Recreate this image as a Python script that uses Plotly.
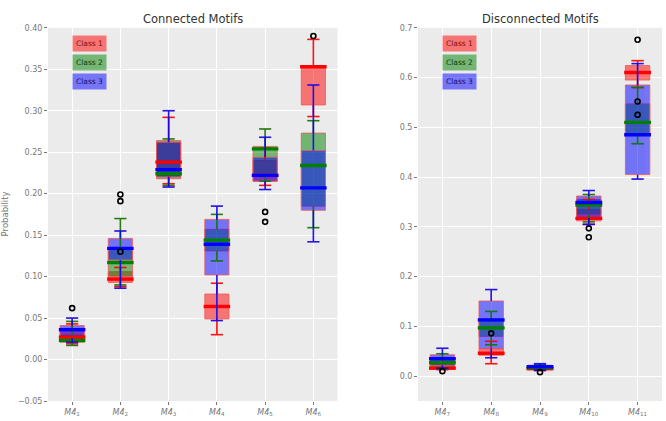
import plotly.graph_objects as go

# ---------------- data ----------------
conn_labels = ["<i>M4</i><sub>1</sub>", "<i>M4</i><sub>2</sub>", "<i>M4</i><sub>3</sub>",
               "<i>M4</i><sub>4</sub>", "<i>M4</i><sub>5</sub>", "<i>M4</i><sub>6</sub>"]
disc_labels = ["<i>M4</i><sub>7</sub>", "<i>M4</i><sub>8</sub>", "<i>M4</i><sub>9</sub>",
               "<i>M4</i><sub>10</sub>", "<i>M4</i><sub>11</sub>"]

# Connected motifs: lower whisker, q1, median, q3, upper whisker
conn_c1_low = [0.019, 0.088, 0.212, 0.030, 0.210, 0.293]
conn_c1_q1  = [0.022, 0.093, 0.222, 0.049, 0.215, 0.307]
conn_c1_med = [0.027, 0.097, 0.238, 0.064, 0.222, 0.353]
conn_c1_q3  = [0.035, 0.106, 0.262, 0.079, 0.240, 0.354]
conn_c1_up  = [0.043, 0.111, 0.292, 0.092, 0.255, 0.386]

conn_c2_low = [0.017, 0.090, 0.210, 0.119, 0.215, 0.159]
conn_c2_q1  = [0.021, 0.100, 0.218, 0.131, 0.220, 0.185]
conn_c2_med = [0.023, 0.117, 0.224, 0.144, 0.254, 0.234]
conn_c2_q3  = [0.030, 0.135, 0.264, 0.157, 0.257, 0.273]
conn_c2_up  = [0.046, 0.170, 0.266, 0.175, 0.278, 0.288]

conn_c3_low = [0.021, 0.086, 0.208, 0.047, 0.205, 0.142]
conn_c3_q1  = [0.026, 0.120, 0.220, 0.102, 0.215, 0.180]
conn_c3_med = [0.036, 0.134, 0.229, 0.139, 0.222, 0.207]
conn_c3_q3  = [0.041, 0.146, 0.262, 0.169, 0.244, 0.252]
conn_c3_up  = [0.050, 0.155, 0.300, 0.185, 0.268, 0.331]

conn_out_x = [1, 2, 2, 2, 5, 5, 6]
conn_out_y = [0.062, 0.199, 0.191, 0.130, 0.178, 0.166, 0.390]

# Disconnected motifs
disc_c1_low = [0.013, 0.025, 0.011, 0.305, 0.580]
disc_c1_q1  = [0.014, 0.042, 0.013, 0.312, 0.595]
disc_c1_med = [0.016, 0.046, 0.015, 0.317, 0.610]
disc_c1_q3  = [0.025, 0.055, 0.018, 0.335, 0.624]
disc_c1_up  = [0.035, 0.070, 0.021, 0.355, 0.634]

disc_c2_low = [0.015, 0.063, 0.012, 0.310, 0.467]
disc_c2_q1  = [0.018, 0.080, 0.014, 0.325, 0.485]
disc_c2_med = [0.027, 0.097, 0.017, 0.344, 0.510]
disc_c2_q3  = [0.035, 0.112, 0.020, 0.355, 0.547]
disc_c2_up  = [0.045, 0.130, 0.023, 0.365, 0.580]

disc_c3_low = [0.016, 0.037, 0.012, 0.305, 0.396]
disc_c3_q1  = [0.022, 0.055, 0.015, 0.318, 0.405]
disc_c3_med = [0.035, 0.113, 0.019, 0.349, 0.485]
disc_c3_q3  = [0.043, 0.151, 0.022, 0.362, 0.585]
disc_c3_up  = [0.056, 0.174, 0.025, 0.373, 0.628]

disc_out_x = [1, 2, 3, 4, 4, 5, 5, 5]
disc_out_y = [0.010, 0.086, 0.008, 0.297, 0.279, 0.676, 0.552, 0.525]

class_names = ["Class 1", "Class 2", "Class 3"]
class_colors = ["#ff0000", "#008000", "#0000ff"]
class_fills = ["rgba(255,0,0,0.5)", "rgba(0,128,0,0.5)", "rgba(0,0,255,0.5)"]
class_text = ["#7a1010", "#0c3d0c", "#10107a"]

BOX_W = 0.5
FONT = "DejaVu Sans"

fig = go.Figure()


def add_panel(xa, ya, stats, out_x, out_y):
    for ci, (low, q1, med, q3, up) in enumerate(stats):
        pos = list(range(1, len(med) + 1))
        fig.add_trace(go.Box(
            x=pos, q1=q1, median=med, q3=q3, lowerfence=low, upperfence=up,
            width=BOX_W, fillcolor=class_fills[ci],
            line=dict(color="rgba(240,90,90,0.85)", width=1),
            whiskerwidth=0.5, boxpoints=False, showlegend=False,
            xaxis=xa, yaxis=ya, hoverinfo="skip"))
    for ci, (low, q1, med, q3, up) in enumerate(stats):
        pos = list(range(1, len(med) + 1))
        wx, wy = [], []
        for p, a, b, c, d in zip(pos, low, q1, q3, up):
            wx += [p, p, None, p, p, None,
                   p - BOX_W / 4, p + BOX_W / 4, None, p - BOX_W / 4, p + BOX_W / 4, None]
            wy += [c, d, None, a, b, None, d, d, None, a, a, None]
        fig.add_trace(go.Scatter(x=wx, y=wy, mode="lines",
                                 line=dict(color=class_colors[ci], width=1.6),
                                 opacity=0.85, showlegend=False, hoverinfo="skip",
                                 xaxis=xa, yaxis=ya))
        mx, my = [], []
        for p, m in zip(pos, med):
            mx += [p - BOX_W * 0.55, p + BOX_W * 0.55, None]
            my += [m, m, None]
        fig.add_trace(go.Scatter(x=mx, y=my, mode="lines",
                                 line=dict(color=class_colors[ci], width=3.4),
                                 showlegend=False, hoverinfo="skip",
                                 xaxis=xa, yaxis=ya))
    fig.add_trace(go.Scatter(x=out_x, y=out_y, mode="markers",
                             marker=dict(symbol="circle-open", size=5, color="black",
                                         line=dict(width=1.6, color="black")),
                             showlegend=False, hoverinfo="skip", xaxis=xa, yaxis=ya))


add_panel("x", "y",
          [(conn_c1_low, conn_c1_q1, conn_c1_med, conn_c1_q3, conn_c1_up),
           (conn_c2_low, conn_c2_q1, conn_c2_med, conn_c2_q3, conn_c2_up),
           (conn_c3_low, conn_c3_q1, conn_c3_med, conn_c3_q3, conn_c3_up)],
          conn_out_x, conn_out_y)
add_panel("x2", "y2",
          [(disc_c1_low, disc_c1_q1, disc_c1_med, disc_c1_q3, disc_c1_up),
           (disc_c2_low, disc_c2_q1, disc_c2_med, disc_c2_q3, disc_c2_up),
           (disc_c3_low, disc_c3_q1, disc_c3_med, disc_c3_q3, disc_c3_up)],
          disc_out_x, disc_out_y)

W, H = 666, 421
y_dom = [(H - 405.7) / H, (H - 24.3) / H]

axis_common = dict(showgrid=True, gridcolor="white", gridwidth=1, zeroline=False,
                   ticks="outside", ticklen=3, tickcolor="#777", tickwidth=1,
                   showline=False, tickfont=dict(family=FONT, size=8, color="#777"))

fig.update_layout(
    width=W, height=H, margin=dict(l=0, r=0, t=0, b=0),
    paper_bgcolor="white", plot_bgcolor="#EBEBEB",
    boxmode="overlay", showlegend=False,
    font=dict(family=FONT),
    xaxis=dict(domain=[48 / W, 337.5 / W], range=[0.5, len(conn_labels) + 0.5],
               tickvals=list(range(1, len(conn_labels) + 1)), ticktext=conn_labels,
               anchor="y", **axis_common),
    yaxis=dict(domain=y_dom, range=[-0.05, 0.40], tickvals=[-0.05 + 0.05 * i for i in range(10)],
               tickformat=".2f", anchor="x", **axis_common),
    xaxis2=dict(domain=[418 / W, 662 / W], range=[0.5, len(disc_labels) + 0.5],
                tickvals=list(range(1, len(disc_labels) + 1)), ticktext=disc_labels,
                anchor="y2", **axis_common),
    yaxis2=dict(domain=y_dom, range=[-0.05, 0.70], tickvals=[0.1 * i for i in range(8)],
                tickformat=".1f", anchor="x2", **axis_common),
)

# titles
for xa, txt in [("x", "Connected Motifs"), ("x2", "Disconnected Motifs")]:
    fig.add_annotation(text=txt, xref=f"{xa} domain", yref="paper", x=0.5, y=(H - 15) / H,
                       yanchor="middle", showarrow=False,
                       font=dict(family=FONT, size=11.5, color="#333"))

fig.add_annotation(text="Probability", xref="paper", yref="paper", x=5 / W, y=(H - 215) / H,
                   textangle=-90, showarrow=False, xanchor="center", yanchor="middle",
                   font=dict(family=FONT, size=8.5, color="#777"))

# legend boxes
for xa in ["xaxis", "xaxis2"]:
    dom = fig.layout[xa].domain
    left_px = dom[0] * W
    for i, name in enumerate(class_names):
        fig.add_annotation(text=name, xref="paper", yref="paper",
                           x=(left_px + 24) / W, y=(H - (40.5 + 19.3 * i)) / H,
                           xanchor="left", yanchor="middle", showarrow=False,
                           bgcolor=class_fills[i], borderpad=3,
                           font=dict(family=FONT, size=7.5, color=class_text[i]))

fig.write_html("out.html")
